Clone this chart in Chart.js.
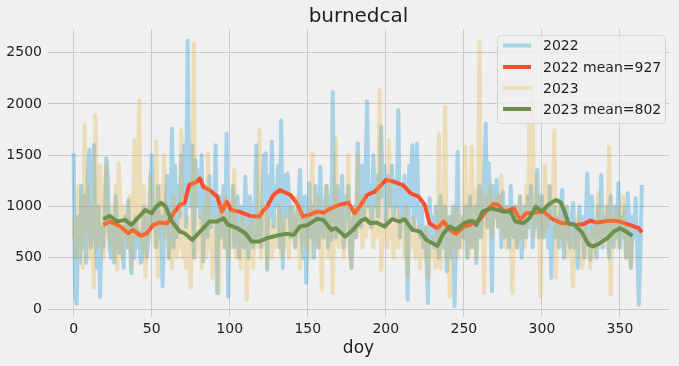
<!DOCTYPE html>
<html>
<head>
<meta charset="utf-8">
<script src="https://cdn.jsdelivr.net/npm/chart.js@4/dist/chart.umd.min.js"></script>
<style>
html,body{margin:0;padding:0;background:#f0f0f0;}
canvas{display:block;}
</style>
</head>
<body>
<canvas id="c" width="679" height="366"></canvas>
<script>
// ---- data ----
const chartTitle = "burnedcal";
const xLabel = "doy";
const xTicks = [0, 50, 100, 150, 200, 250, 300, 350];
const yTicks = [0, 500, 1000, 1500, 2000, 2500];
const seriesLabels = ["2022", "2022 mean=927", "2023", "2023 mean=802"];

// daily values, day of year 0..364
const raw2022 = [
 1520,120,50,900,450,1200,600,1100,450,1300,
 1550,600,900,1600,700,400,1000,120,800,600,
 900,1470,1240,600,500,900,450,1100,700,550,
 800,650,400,900,600,1060,700,350,800,500,
 900,600,750,450,500,1000,850,512,700,1100,
 1500,800,1000,600,1200,700,900,220,800,1050,
 1300,500,900,1760,600,1400,700,1200,900,1500,
 1100,1600,800,2620,1300,1000,1598,500,1450,1000,
 1350,900,1500,464,1200,1000,700,1300,800,1100,
 900,1598,156,1100,700,900,1200,600,1712,123,
 1000,800,1200,600,900,1100,500,1000,800,600,
 1290,700,500,1100,900,600,800,1598,700,900,
 600,1200,1500,1518,383,1300,900,1631,800,1200,
 1000,1400,600,1842,399,1300,900,1323,1100,700,
 1000,800,600,900,1000,1355,700,500,1100,253,
 900,1226,700,1000,500,1200,800,600,1388,900,
 700,1000,1200,600,1100,674,2117,900,700,1200,
 1000,800,1300,600,1100,900,1200,600,399,800,
 1000,700,1615,1100,800,1400,900,1300,2023,1000,
 1200,800,1500,1000,1300,900,1200,1777,1100,1400,
 800,1300,1100,1000,1400,900,1200,1000,1939,700,
 1200,900,1300,800,91,1400,1000,1598,800,1100,
 1615,900,700,1000,600,800,500,58,1080,700,
 900,600,1000,700,500,1100,800,600,1000,366,
 800,900,500,1000,26,700,1534,600,900,800,
 700,1000,500,900,1100,600,800,1000,447,900,
 1200,700,1000,1300,1809,800,1420,1000,172,1200,
 900,1258,800,1100,600,1145,700,1000,900,600,
 1200,800,700,1000,600,800,1100,500,900,1000,
 700,1100,800,1200,600,1000,800,1355,700,900,
 1100,700,900,1000,600,1200,302,900,1000,700,
 900,600,1000,1161,500,800,1000,700,600,900,
 1031,600,800,400,1000,700,900,500,800,1323,
 900,480,1100,700,800,500,1000,700,1307,600,
 900,700,1000,500,1100,800,600,1000,700,1226,
 600,900,700,1000,500,1128,800,400,900,700,
 1080,600,42,500,1209
];

// daily values, day of year 0..358
const raw2023 = [
 700,900,500,1200,600,1100,400,1793,800,1200,
 500,1000,700,204,1890,600,900,1400,700,500,
 1100,1420,700,900,600,1000,500,1200,383,1420,
 800,500,1000,700,900,600,1100,400,800,1647,
 700,900,2036,800,600,1200,318,1000,700,1300,
 900,1100,600,1631,318,1000,1200,800,1500,700,
 900,500,700,400,1100,600,500,800,600,1744,
 500,700,400,900,600,204,800,2588,500,700,
 600,900,400,700,1000,500,1518,600,800,300,
 700,900,500,156,1000,800,600,1100,700,500,
 900,600,1000,1355,500,700,800,400,900,600,
 700,91,800,500,900,400,700,600,1000,1744,
 500,800,600,1000,400,900,700,500,800,600,
 900,700,1000,500,800,600,900,700,500,1000,
 700,900,600,1100,800,400,1000,700,900,600,
 800,1000,500,1518,700,900,600,1100,800,188,
 900,700,1200,500,800,1000,156,900,1663,700,
 600,900,1000,500,700,800,1501,600,400,900,
 1000,700,1501,800,900,600,1100,700,800,1000,
 800,900,600,1000,700,900,2134,383,700,800,
 900,600,1647,700,800,500,900,1000,600,800,
 700,900,500,1000,318,800,600,900,700,500,
 800,600,400,700,500,600,800,300,500,600,
 700,500,400,600,1712,400,700,900,1971,500,
 800,123,900,700,600,1000,500,900,800,600,
 1000,1582,700,500,900,1582,600,1161,500,900,
 2604,700,1000,156,1100,900,800,1200,700,1000,
 900,1100,800,1000,1300,700,900,600,1000,800,
 900,156,700,1000,600,800,1100,700,900,600,
 1200,800,1890,1000,2150,700,1300,900,1100,123,
 1000,700,1400,800,1200,900,1000,1100,1744,302,
 1000,800,700,900,600,1000,500,800,700,500,
 220,800,600,900,500,700,400,600,800,500,
 700,400,800,500,700,900,1128,600,800,700,
 900,1000,600,1582,140,900,800,700,1000,600,
 800,900,1096,600,500,800,700,400,700
];

// rolling means, read at the days listed
const meanDays2022 = [19,23,27,30,35,38,43,47,51,55,60,64,68,71,74,79,81,83,87,92,95,98,101,106,113,119,121,124,128,132,139,143,147,151,156,160,165,170,176,180,184,188,193,200,205,211,216,221,225,228,233,237,241,245,250,254,256,260,265,269,272,276,282,286,290,296,301,306,312,316,322,327,331,335,344,350,356,362,364];
const mean2022 = [820,853,830,804,739,772,713,739,820,843,836,934,1015,1031,1209,1242,1274,1193,1161,1096,950,1047,966,950,908,901,950,999,1112,1161,1112,1031,901,918,950,940,982,1015,1038,934,1015,1112,1145,1258,1242,1209,1128,1096,1015,836,788,853,772,733,804,820,836,869,966,1025,1015,950,982,869,934,940,950,885,840,836,820,830,862,843,862,853,820,788,746];

const meanDays2023 = [19,23,28,33,37,42,46,50,53,56,59,63,68,71,76,81,87,92,96,99,105,110,114,119,124,128,132,136,141,145,150,156,160,165,168,174,179,184,187,190,194,199,204,209,212,217,222,226,233,237,241,245,250,254,256,258,262,267,272,275,280,283,288,292,296,300,304,309,312,314,317,321,326,330,333,337,342,346,350,354,358];
const mean2023 = [876,908,853,869,820,901,966,934,999,1035,999,853,755,739,674,755,853,853,885,820,788,739,658,658,691,707,723,733,723,804,820,879,869,772,788,707,772,860,880,836,843,804,876,853,876,772,755,674,616,739,804,772,836,860,853,820,950,982,966,950,950,853,836,885,999,950,1015,1064,1040,966,836,820,739,626,610,642,691,755,788,755,713];

// ---- chart ----
const FONT = "'DejaVu Sans', sans-serif";
const TXT = '#1e1e1e';
const colBlue = 'rgba(0,143,213,0.3)';
const colOrange = '#fc4f30';
const colTan = 'rgba(229,174,56,0.3)';
const colGreen = '#6d904f';
const legendColors = [colBlue, colOrange, colTan, colGreen];

const toPts = (xs, ys) => ys.map((v, i) => ({x: xs ? xs[i] : i, y: v}));

const bgPlugin = {
  id: 'bg',
  beforeDraw(chart) {
    const ctx = chart.ctx;
    ctx.save();
    ctx.fillStyle = '#f0f0f0';
    ctx.fillRect(0, 0, chart.width, chart.height);
    ctx.restore();
  }
};

const titlePlugin = {
  id: 'axTitle',
  afterDraw(chart) {
    const ctx = chart.ctx, a = chart.chartArea;
    ctx.save();
    ctx.font = "20px " + FONT;
    ctx.fillStyle = TXT;
    ctx.textAlign = 'center';
    ctx.textBaseline = 'alphabetic';
    ctx.fillText(chartTitle, (a.left + a.right) / 2, 22);
    ctx.restore();
  }
};

const legendPlugin = {
  id: 'boxLegend',
  afterDatasetsDraw(chart) {
    const ctx = chart.ctx;
    const x0 = 497.5, y0 = 35.5, w = 168, h = 88, r = 4;
    ctx.save();
    ctx.beginPath();
    ctx.moveTo(x0 + r, y0);
    ctx.arcTo(x0 + w, y0, x0 + w, y0 + h, r);
    ctx.arcTo(x0 + w, y0 + h, x0, y0 + h, r);
    ctx.arcTo(x0, y0 + h, x0, y0, r);
    ctx.arcTo(x0, y0, x0 + w, y0, r);
    ctx.closePath();
    ctx.fillStyle = 'rgba(240,240,240,0.8)';
    ctx.fill();
    ctx.strokeStyle = 'rgba(204,204,204,0.8)';
    ctx.lineWidth = 1;
    ctx.stroke();
    const rows = [45.5, 67, 88, 109];
    ctx.font = "14px " + FONT;
    ctx.textBaseline = 'middle';
    ctx.textAlign = 'left';
    seriesLabels.forEach((lab, i) => {
      ctx.beginPath();
      ctx.strokeStyle = legendColors[i];
      ctx.lineWidth = 4;
      ctx.lineCap = 'butt';
      ctx.moveTo(503, rows[i]);
      ctx.lineTo(531, rows[i]);
      ctx.stroke();
      ctx.fillStyle = TXT;
      ctx.fillText(lab, 543, rows[i] + 1);
    });
    ctx.restore();
  }
};

const lineDs = (label, data, color, order) => ({
  label, data, borderColor: color, backgroundColor: color,
  borderWidth: 4, pointRadius: 0, tension: 0, fill: false,
  borderJoinStyle: 'round', order
});

new Chart(document.getElementById('c'), {
  type: 'line',
  data: {
    datasets: [
      lineDs(seriesLabels[0], toPts(null, raw2022), colBlue, 4),
      lineDs(seriesLabels[1], toPts(meanDays2022, mean2022), colOrange, 3),
      lineDs(seriesLabels[2], toPts(null, raw2023), colTan, 2),
      lineDs(seriesLabels[3], toPts(meanDays2023, mean2023), colGreen, 1)
    ]
  },
  options: {
    responsive: false,
    animation: false,
    devicePixelRatio: 1,
    layout: {padding: {top: 29, right: 10, left: 0, bottom: 0}},
    plugins: {legend: {display: false}, title: {display: false}, tooltip: {enabled: false}},
    scales: {
      x: {
        type: 'linear', min: -16.4, max: 381.4,
        afterFit(s) { s.height = 49; },
        afterBuildTicks(s) { s.ticks = xTicks.map(v => ({value: v})); },
        border: {display: false},
        grid: {color: '#cbcbcb', lineWidth: 1, drawTicks: false},
        ticks: {color: TXT, font: {family: FONT, size: 14}, padding: 4, maxRotation: 0, autoSkip: false,
                callback: v => String(v)},
        title: {display: true, text: xLabel, color: TXT, font: {family: FONT, size: 17}, padding: {top: 0, bottom: 7}}
      },
      y: {
        type: 'linear', min: -78, max: 2731,
        afterFit(s) { s.width = 48; },
        afterBuildTicks(s) { s.ticks = yTicks.map(v => ({value: v})); },
        border: {display: false},
        grid: {color: '#cbcbcb', lineWidth: 1, drawTicks: false},
        ticks: {color: TXT, font: {family: FONT, size: 14}, padding: 6, autoSkip: false,
                callback: v => String(v)}
      }
    }
  },
  plugins: [bgPlugin, titlePlugin, legendPlugin]
});
</script>
</body>
</html>
